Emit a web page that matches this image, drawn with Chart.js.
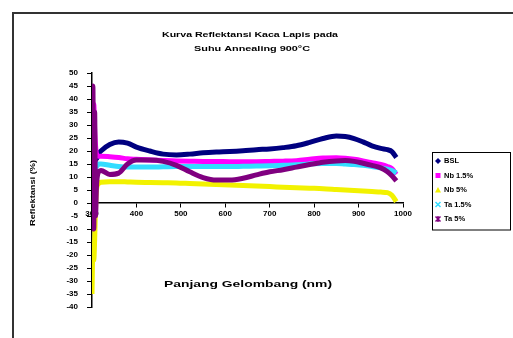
<!DOCTYPE html>
<html>
<head>
<meta charset="utf-8">
<script src="https://cdn.jsdelivr.net/npm/chart.js@4.4.1/dist/chart.umd.min.js"></script>
<style>
  html, body { margin: 0; padding: 0; background: #fff; }
</style>
</head>
<body>
<canvas id="chart" width="513" height="338"></canvas>
<script>
const wavelengths = [300, 302, 304, 306, 308, 310, 315, 320, 340, 360, 380, 400, 430, 460, 490, 520, 550, 580, 610, 640, 670, 700, 730, 760, 790, 820, 850, 870, 890, 910, 930, 950, 965, 975, 985];

const bsl = [22, 8, 26, 14, 19, 17, 19, 20, 22.5, 23.5, 23, 21.5, 20, 18.8, 18.5, 18.8, 19.3, 19.6, 19.8, 20.1, 20.5, 20.8, 21.3, 22, 23.3, 24.8, 25.8, 25.6, 24.8, 23.5, 22, 21, 20.5, 19.8, 17.5];
const nb15 = [42, 32, 38, 28, 22, 19, 18, 18, 17.8, 17.5, 17, 16.8, 16.5, 16.3, 16.2, 16.1, 16, 16, 15.9, 15.9, 15.9, 16, 16.1, 16.3, 16.8, 17.3, 17.4, 17.2, 16.8, 16.2, 15.5, 14.8, 14, 13.2, 11];
const nb5 = [-35, -18, -22, -14, -2, 5, 7.5, 8, 8.2, 8.2, 8.1, 8, 7.9, 7.8, 7.7, 7.5, 7.3, 7.1, 6.9, 6.7, 6.5, 6.3, 6.1, 5.9, 5.7, 5.5, 5.2, 5, 4.8, 4.6, 4.4, 4.2, 4, 3, 0.5];
const ta15 = [10, 2, 18, 8, 15, 14, 15, 15, 14.5, 14, 13.8, 13.8, 13.8, 13.9, 14, 14, 14, 14, 14, 14.1, 14.2, 14.3, 14.5, 14.7, 15, 15.2, 15.2, 15, 14.8, 14.5, 14, 13.5, 13, 12.5, 11.5];
const ta5 = [30, 45, -10, 35, -5, 6, 12, 12.5, 11, 11.5, 15, 16.5, 16.5, 16, 14.5, 12, 9.8, 8.8, 8.8, 9.5, 10.8, 12, 12.8, 13.8, 14.8, 15.7, 16.2, 16.3, 16, 15.3, 14.5, 13.5, 12, 10.5, 8.5];

const seriesNames = ["BSL", "Nb 1.5%", "Nb 5%", "Ta 1.5%", "Ta 5%"];
const seriesValues = [bsl, nb15, nb5, ta15, ta5];
const seriesColors = ["#000080", "#FF00FF", "#F2F200", "#33DDFF", "#800080"];

const titleLines = ["Kurva Reflektansi Kaca Lapis pada", "Suhu Annealing 900°C"];
const xTitle = "Panjang Gelombang (nm)";
const yTitle = "Reflektansi (%)";

const tickFont = { family: "'Liberation Sans', Arial, sans-serif", size: 8, weight: "bold" };

// text squeezed/stretched to the width it has in the picture
const drawStretched = (ctx, text, cx, cy, width, font, rotate) => {
  ctx.save();
  ctx.font = font;
  const w = ctx.measureText(text).width;
  ctx.translate(cx, cy);
  if (rotate) ctx.rotate(-Math.PI / 2);
  ctx.scale(width / w, 1);
  ctx.fillStyle = "#000";
  ctx.textAlign = "center";
  ctx.textBaseline = "middle";
  ctx.fillText(text, 0, 0);
  ctx.restore();
};

const drawMarker = (ctx, i, x, y) => {
  ctx.save();
  ctx.fillStyle = seriesColors[i];
  ctx.strokeStyle = seriesColors[i];
  ctx.lineWidth = 1.5;
  ctx.beginPath();
  if (i === 0) {
    ctx.moveTo(x, y - 3); ctx.lineTo(x + 3, y); ctx.lineTo(x, y + 3); ctx.lineTo(x - 3, y);
    ctx.closePath(); ctx.fill();
  } else if (i === 1) {
    ctx.fillRect(x - 2.5, y - 2.5, 5, 5);
  } else if (i === 2) {
    ctx.moveTo(x, y - 3); ctx.lineTo(x + 3, y + 2.5); ctx.lineTo(x - 3, y + 2.5);
    ctx.closePath(); ctx.fill();
  } else if (i === 3) {
    ctx.moveTo(x - 2.5, y - 2.5); ctx.lineTo(x + 2.5, y + 2.5);
    ctx.moveTo(x + 2.5, y - 2.5); ctx.lineTo(x - 2.5, y + 2.5);
    ctx.stroke();
  } else {
    ctx.moveTo(x - 2.5, y - 2.5); ctx.lineTo(x + 2.5, y + 2.5);
    ctx.moveTo(x + 2.5, y - 2.5); ctx.lineTo(x - 2.5, y + 2.5);
    ctx.moveTo(x, y - 3); ctx.lineTo(x, y + 3);
    ctx.stroke();
  }
  ctx.restore();
};

const decorPlugin = {
  id: "decor",
  beforeDraw: (chart) => {
    const ctx = chart.ctx;
    ctx.save();
    ctx.fillStyle = "#fff";
    ctx.fillRect(0, 0, chart.width, chart.height);
    // outer frame, only left and top edges are inside the picture
    ctx.strokeStyle = "#333";
    ctx.lineWidth = 2;
    ctx.beginPath();
    ctx.moveTo(13, chart.height);
    ctx.lineTo(13, 13);
    ctx.lineTo(chart.width, 13);
    ctx.stroke();
    ctx.restore();
  },
  afterDraw: (chart) => {
    const ctx = chart.ctx;
    const bold8 = "bold 8px 'Liberation Sans', Arial, sans-serif";
    const bold9 = "bold 9px 'Liberation Sans', Arial, sans-serif";
    drawStretched(ctx, titleLines[0], 250, 35, 176, bold8);
    drawStretched(ctx, titleLines[1], 252, 49, 116, bold8);
    drawStretched(ctx, xTitle, 248, 285, 168, bold9);
    drawStretched(ctx, yTitle, 33, 193, 66, bold8, true);

    // legend box
    const lx = 432, ly = 152, lw = 78, rowH = 14.5;
    ctx.save();
    ctx.strokeStyle = "#000";
    ctx.lineWidth = 1;
    ctx.strokeRect(lx + 0.5, ly + 0.5, lw, rowH * seriesNames.length + 5);
    ctx.font = "bold 7.5px 'Liberation Sans', Arial, sans-serif";
    ctx.textBaseline = "middle";
    seriesNames.forEach((name, i) => {
      const y = ly + 9 + i * rowH;
      drawMarker(ctx, i, lx + 6, y);
      ctx.fillStyle = "#000";
      ctx.fillText(name, lx + 12, y);
    });
    ctx.restore();
  },
};

const datasets = seriesNames.map((name, i) => ({
  label: name,
  data: seriesValues[i].map((v, k) => ({ x: wavelengths[k], y: v })),
  borderColor: seriesColors[i],
  backgroundColor: seriesColors[i],
  borderWidth: 5,
  pointRadius: 0,
  cubicInterpolationMode: "monotone",
  order: seriesNames.length - i,
}));

new Chart(document.getElementById("chart"), {
  type: "line",
  data: { datasets: datasets },
  options: {
    responsive: false,
    animation: false,
    layout: { padding: { top: 73, right: 110, bottom: 31, left: 0 } },
    plugins: {
      legend: { display: false },
      title: { display: false },
      tooltip: { enabled: false },
    },
    scales: {
      x: {
        type: "linear",
        position: { y: 0 },
        min: 300,
        max: 1000,
        ticks: {
          stepSize: 100,
          color: "#000",
          font: tickFont,
          padding: 2,
          maxRotation: 0,
          callback: (v) => String(v),
        },
        grid: { display: true, drawOnChartArea: false, tickLength: 4, color: "#000" },
        border: { color: "#000", width: 1.5 },
      },
      y: {
        min: -40,
        max: 50,
        afterFit: (scale) => {
          scale.width = 92;
        },
        ticks: { stepSize: 5, color: "#000", font: tickFont, padding: 9 },
        grid: { display: true, drawOnChartArea: false, tickLength: 5, color: "#000" },
        border: { color: "#000", width: 1.5 },
      },
    },
  },
  plugins: [decorPlugin],
});
</script>
</body>
</html>
